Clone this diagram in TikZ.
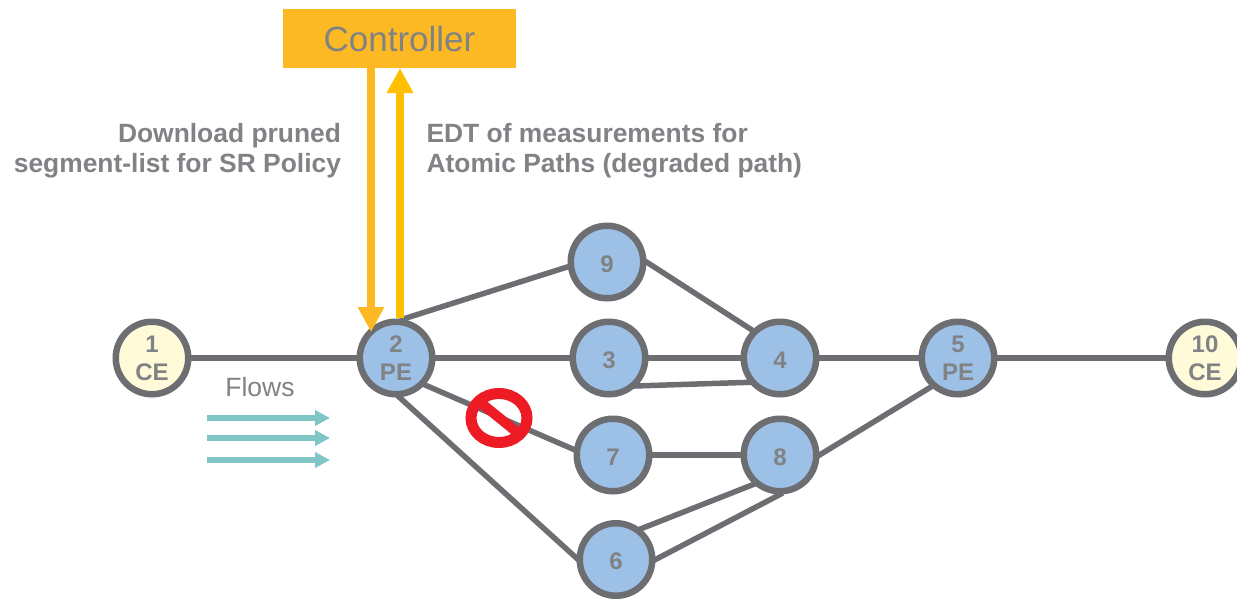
\documentclass[tikz,border=0pt]{standalone}
\usepackage{fontspec}
\setmainfont{Liberation Sans}
\usetikzlibrary{arrows.meta}
\definecolor{linegray}{HTML}{6D6E71}
\definecolor{textgray}{HTML}{808285}
\definecolor{peblue}{HTML}{9DC1E6}
\definecolor{ceyellow}{HTML}{FFFBD9}
\definecolor{ctrlorange}{HTML}{FDB924}
\definecolor{upyellow}{HTML}{FFC000}
\definecolor{flowteal}{HTML}{82C5C6}
\definecolor{stopred}{HTML}{ED1C24}
\tikzset{
    router/.style={draw=linegray,circle,line width=6.5pt,minimum size=72.5pt,inner sep=0pt,fill=peblue,
        text=textgray,align=center,font=\fontsize{24}{28}\selectfont\bfseries,
        execute at begin node={\rule{0pt}{21pt}}},
    edge/.style={draw=linegray,line width=6pt,shorten <=-3pt,shorten >=-3pt},
    diag/.style={draw=linegray,line width=5.5pt,shorten <=-3pt,shorten >=-3pt},
    flow/.style={draw=flowteal,line width=6pt,-{Triangle[width=15pt,length=15pt]}},
    note/.style={text=textgray,font=\fontsize{26.4}{30}\selectfont\bfseries},
}
\begin{document}
\begin{tikzpicture}[x=1pt,y=-1pt]
    \useasboundingbox (0,0) rectangle (1237,598);
    \node[router,fill=ceyellow] at (152,358) (n1) {1\\CE};
    \node[router] at (396,358) (n2) {2\\PE};
    \node[router] at (607,262) (n9) {9};
    \node[router] at (609,358) (n3) {3};
    \node[router] at (780,358) (n4) {4};
    \node[router] at (613,455) (n7) {7};
    \node[router] at (780,455) (n8) {8};
    \node[router] at (616,559.5) (n6) {6};
    \node[router] at (958,358) (n5) {5\\PE};
    \node[router,fill=ceyellow] at (1205,358) (n10) {10\\CE};
    \node[fill=ctrlorange,minimum width=233pt,minimum height=59pt,inner sep=0pt,text=textgray,
        font=\fontsize{35}{40}\selectfont] at (399.5,38.5) (ctrl) {Controller};
    \node[note,align=right,anchor=east] at (344.5,151) (down) {Download pruned\\segment-list for SR Policy};
    \node[note,align=left,anchor=west] at (423,151) (edt) {EDT of measurements for\\Atomic Paths (degraded path)};
    \node[text=textgray,font=\fontsize{26.5}{30}\selectfont] at (260,387) (flows) {Flows};
    \draw[edge] (n1.east) -- (n2.west);
    \draw[edge] (n2.east) -- (n3.west);
    \draw[edge] (n3.east) -- (n4.west);
    \draw[edge] (n4.east) -- (n5.west);
    \draw[edge] (n5.east) -- (n10.west);
    \draw[edge] (n7.east) -- (n8.west);
    \draw[diag] (n2.80) -- (n9.187);
    \draw[diag] (n9.east) -- (n4.135);
    \draw[diag] (n3.-45) -- (n4.218);
    \draw[diag] (n2.-43) -- (n7.172);
    \draw[diag] (n2.-85) -- (n6.178);
    \draw[diag] (n6.51) -- (n8.228);
    \draw[diag] (n6.east) -- (n8.south);
    \draw[diag] (n8.east) -- (n5.227);
    \coordinate (downtop) at (371,68);
    \coordinate (downend) at (371,332);
    \coordinate (uptop) at (400,68);
    \coordinate (upend) at (400,318);
    \draw[draw=ctrlorange,line width=8.5pt,-{Triangle[width=25pt,length=25pt]}] (downtop) -- (downend);
    \draw[draw=upyellow,line width=8.5pt,-{Triangle[width=25pt,length=25pt]}] (upend) -- (uptop);
    \coordinate (f1a) at (207,418);
    \coordinate (f1b) at (330,418);
    \coordinate (f2a) at (207,438);
    \coordinate (f2b) at (330,438);
    \coordinate (f3a) at (207,460);
    \coordinate (f3b) at (330,460);
    \draw[flow] (f1a) -- (f1b);
    \draw[flow] (f2a) -- (f2b);
    \draw[flow] (f3a) -- (f3b);
    \draw[stopred,line width=11pt] (499,418) ellipse [x radius=28pt,y radius=24.5pt];
    \draw[stopred,line width=10pt] (481,403) -- (518,433);
    \end{tikzpicture}
\end{document}
